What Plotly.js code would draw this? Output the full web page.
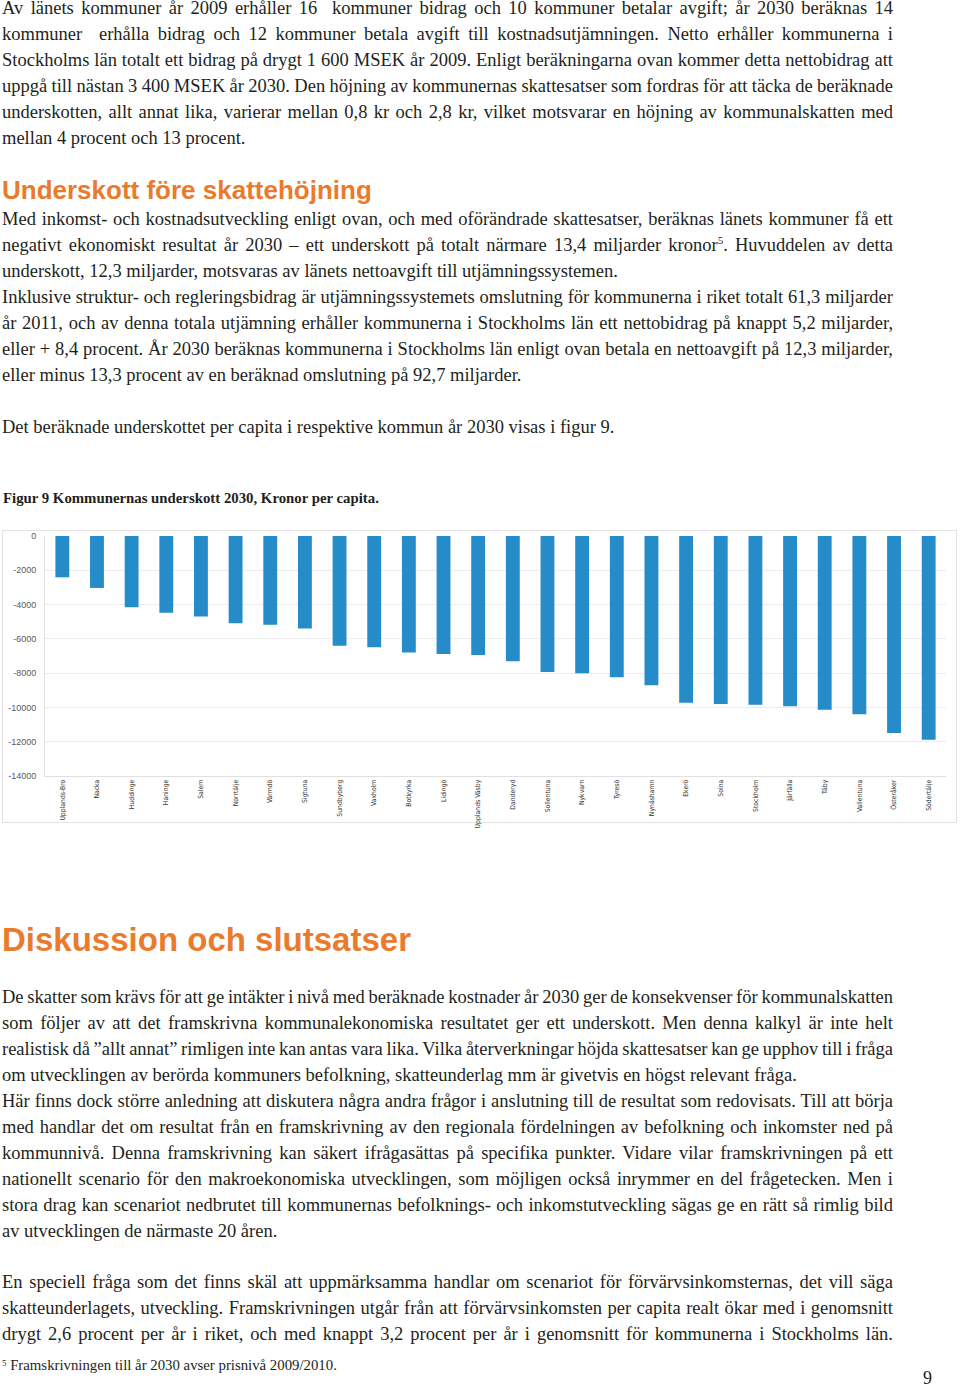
<!DOCTYPE html>
<html>
<head>
<meta charset="utf-8">
<script src="https://cdn.plot.ly/plotly-3.0.1.min.js"></script>
<style>
  html, body { margin:0; padding:0; background:#fff; }
  body { width:960px; height:1387px; position:relative; overflow:hidden; }
  .ln { position:absolute; left:2px; width:891px; height:26px; line-height:26px; white-space:nowrap;
        font-family:"Liberation Serif","Times New Roman",serif; font-size:18.5px; color:#231f20; }
  .j { text-align:justify; text-align-last:justify; }
  .h { position:absolute; left:2px; font-family:"Liberation Sans",Arial,sans-serif; font-weight:bold; color:#ea7b2c; white-space:nowrap; }
  sup { font-size:60%; vertical-align:top; line-height:1; position:relative; top:3px; }
  #frame { position:absolute; left:2px; top:530px; width:955px; height:293px; border:1px solid #e3e3e3; box-sizing:border-box; }
  #chart { position:absolute; left:2px; top:530px; width:956px; height:310px; }
</style>
</head>
<body>
<div id="text"></div>
<div id="frame"></div>
<div id="chart"></div>
<script>
// ---- chart data ----
const municipalities = ["Upplands-Bro","Nacka","Huddinge","Haninge","Salem","Norrtälje","Värmdö","Sigtuna",
  "Sundbyberg","Vaxholm","Botkyrka","Lidingö","Upplands Väsby","Danderyd","Sollentuna","Nykvarn","Tyresö",
  "Nynäshamn","Ekerö","Solna","Stockholm","Järfälla","Täby","Vallentuna","Österåker","Södertälje"];
const deficitPerCapita = [-2410,-3030,-4160,-4470,-4690,-5090,-5170,-5390,
  -6400,-6490,-6800,-6880,-6940,-7310,-7930,-8010,-8240,
  -8710,-9720,-9800,-9840,-9930,-10130,-10400,-11490,-11880];
const yTickValues = [0,-2000,-4000,-6000,-8000,-10000,-12000,-14000];
const yTickLabels = ["0","-2000","-4000","-6000","-8000","-10000","-12000","-14000"];

// ---- page text (line by line: [centerY, mode, html]) ----
const textLines = [
 [8,"j","Av länets kommuner år 2009 erhåller 16&nbsp; kommuner bidrag och 10 kommuner betalar avgift; år 2030 beräknas 14"],
 [34,"j","kommuner&nbsp; erhålla bidrag och 12 kommuner betala avgift till kostnadsutjämningen. Netto erhåller kommunerna i"],
 [60,"j","Stockholms län totalt ett bidrag på drygt 1 600 MSEK år 2009. Enligt beräkningarna ovan kommer detta nettobidrag att"],
 [86,"j","uppgå till nästan 3 400 MSEK år 2030. Den höjning av kommunernas skattesatser som fordras för att täcka de beräknade"],
 [112,"j","underskotten, allt annat lika, varierar mellan 0,8 kr och 2,8 kr, vilket motsvarar en höjning av kommunalskatten med"],
 [138,"l","mellan 4 procent och 13 procent."],
 [219,"j","Med inkomst- och kostnadsutveckling enligt ovan, och med oförändrade skattesatser, beräknas länets kommuner få ett"],
 [245,"j","negativt ekonomiskt resultat år 2030 – ett underskott på totalt närmare 13,4 miljarder kronor<sup>5</sup>. Huvuddelen av detta"],
 [271,"l","underskott, 12,3 miljarder, motsvaras av länets nettoavgift till utjämningssystemen."],
 [297,"j","Inklusive struktur- och regleringsbidrag är utjämningssystemets omslutning för kommunerna i riket totalt 61,3 miljarder"],
 [323,"j","år 2011, och av denna totala utjämning erhåller kommunerna i Stockholms län ett nettobidrag på knappt 5,2 miljarder,"],
 [349,"j","eller + 8,4 procent. År 2030 beräknas kommunerna i Stockholms län enligt ovan betala en nettoavgift på 12,3 miljarder,"],
 [375,"l","eller minus 13,3 procent av en beräknad omslutning på 92,7 miljarder."],
 [427,"l","Det beräknade underskottet per capita i respektive kommun år 2030 visas i figur 9."],
 [997,"j","De skatter som krävs för att ge intäkter i nivå med beräknade kostnader år 2030 ger de konsekvenser för kommunalskatten"],
 [1023,"j","som följer av att det framskrivna kommunalekonomiska resultatet ger ett underskott. Men denna kalkyl är inte helt"],
 [1049,"j","realistisk då ”allt annat” rimligen inte kan antas vara lika. Vilka återverkningar höjda skattesatser kan ge upphov till i fråga"],
 [1075,"l","om utvecklingen av berörda kommuners befolkning, skatteunderlag mm är givetvis en högst relevant fråga."],
 [1101,"j","Här finns dock större anledning att diskutera några andra frågor i anslutning till de resultat som redovisats. Till att börja"],
 [1127,"j","med handlar det om resultat från en framskrivning av den regionala fördelningen av befolkning och inkomster ned på"],
 [1153,"j","kommunnivå. Denna framskrivning kan säkert ifrågasättas på specifika punkter. Vidare vilar framskrivningen på ett"],
 [1179,"j","nationellt scenario för den makroekonomiska utvecklingen, som möjligen också inrymmer en del frågetecken. Men i"],
 [1205,"j","stora drag kan scenariot nedbrutet till kommunernas befolknings- och inkomstutveckling sägas ge en rätt så rimlig bild"],
 [1231,"l","av utvecklingen de närmaste 20 åren."],
 [1282,"j","En speciell fråga som det finns skäl att uppmärksamma handlar om scenariot för förvärvsinkomsternas, det vill säga"],
 [1308,"j","skatteunderlagets, utveckling. Framskrivningen utgår från att förvärvsinkomsten per capita realt ökar med i genomsnitt"],
 [1334,"j","drygt 2,6 procent per år i riket, och med knappt 3,2 procent per år i genomsnitt för kommunerna i Stockholms län."]
];
const heading1 = "Underskott före skattehöjning";
const heading2 = "Diskussion och slutsatser";
const caption = "Figur 9 Kommunernas underskott 2030, Kronor per capita.";
const footnote = "<sup>5</sup> Framskrivningen till år 2030 avser prisnivå 2009/2010.";
const pageNumber = "9";

const T = document.getElementById('text');
function add(html, css, cls) {
  const d = document.createElement('div');
  if (cls) d.className = cls;
  d.innerHTML = html;
  Object.assign(d.style, css);
  T.appendChild(d);
  return d;
}
textLines.forEach(([c, m, h]) => {
  const d = add(h, {top: (c - 13) + 'px'}, 'ln' + (m === 'j' ? ' j' : ''));
  if (m === 'j') {
    // tighten spacing only when the natural width of the line exceeds the column
    const probe = document.createElement('span');
    probe.innerHTML = h;
    probe.style.cssText = 'position:absolute;visibility:hidden;white-space:nowrap;font-family:"Liberation Serif",serif;font-size:18.5px;';
    document.body.appendChild(probe);
    const w = probe.getBoundingClientRect().width;
    const txt = probe.textContent;
    document.body.removeChild(probe);
    const spaces = (txt.match(/[ \u00a0]/g) || []).length;
    const target = 890;
    if (w > target) {
      let ws = (target - w) / spaces;
      if (ws >= -1.8) {
        d.style.wordSpacing = ws + 'px';
      } else {
        d.style.wordSpacing = '-1.8px';
        const rest = target - w + 1.8 * spaces;
        d.style.letterSpacing = (rest / txt.length) + 'px';
      }
    }
  }
});
add(heading1, {top: '172px', fontSize: '26px', lineHeight: '36px'}, 'h');
add(heading2, {top: '917px', fontSize: '33px', lineHeight: '46px'}, 'h');
add(caption, {position:'absolute', left:'3px', top:'489px', fontFamily:'"Liberation Serif",serif', fontWeight:'bold',
  fontSize:'14.8px', lineHeight:'18px', color:'#231f20', whiteSpace:'nowrap'});
add(footnote, {position:'absolute', left:'2px', top:'1356px', fontFamily:'"Liberation Serif",serif',
  fontSize:'14.8px', lineHeight:'18px', color:'#231f20', whiteSpace:'nowrap'});
add(pageNumber, {position:'absolute', left:'923px', top:'1367px', fontFamily:'"Liberation Serif",serif',
  fontSize:'18px', lineHeight:'22px', color:'#231f20'});

// ---- chart ----
Plotly.newPlot('chart', [{
  type: 'bar',
  x: municipalities,
  y: deficitPerCapita,
  marker: {color: '#258bc9'},
  hoverinfo: 'x+y'
}], {
  width: 956, height: 310,
  margin: {l: 43, r: 12, t: 6, b: 64},
  paper_bgcolor: 'rgba(0,0,0,0)',
  plot_bgcolor: '#ffffff',
  bargap: 0.6,
  showlegend: false,
  xaxis: {
    type: 'category',
    tickangle: -90,
    tickfont: {family: '"Liberation Sans Narrow","DejaVu Sans Condensed",sans-serif', size: 6.8, color: '#333333'},
    showline: true, linecolor: '#e0e0e0', linewidth: 1,
    ticks: '', showgrid: false, automargin: false
  },
  yaxis: {
    range: [-14000, 0],
    tickvals: yTickValues, ticktext: yTickLabels,
    tickfont: {family: '"Liberation Sans",Arial,sans-serif', size: 9, color: '#595959'},
    showline: true, linecolor: '#e0e0e0', linewidth: 1,
    showgrid: true, gridcolor: '#ececec', gridwidth: 1,
    zeroline: false, ticks: '', ticklabelstandoff: 6, automargin: false
  }
}, {staticPlot: true, displayModeBar: false});
</script>
</body>
</html>
